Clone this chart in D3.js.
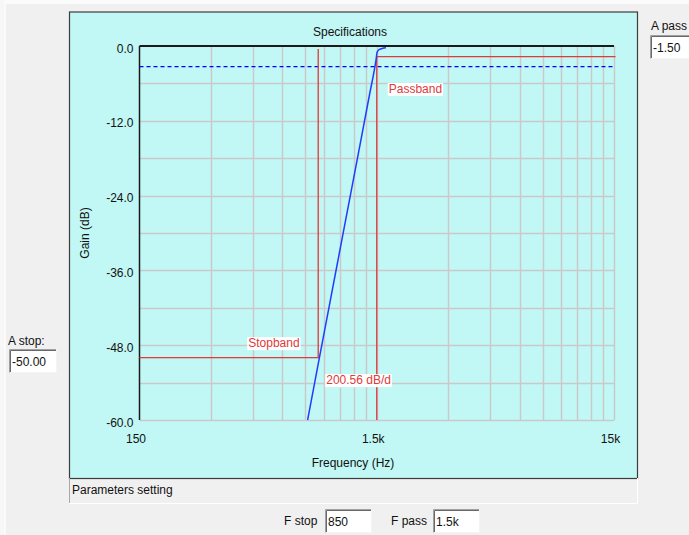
<!DOCTYPE html>
<html>
<head>
<meta charset="utf-8">
<script src="https://cdn.jsdelivr.net/npm/d3@7"></script>
<style>
html,body{margin:0;padding:0;background:#f0f0f0;overflow:hidden;}
svg{display:block;font-family:"Liberation Sans",Arial,sans-serif;}
</style>
</head>
<body>
<svg id="chart" width="689" height="535"></svg>
<script>
// ---- data ----
const freqDomain = [150, 15000];
const gainDomain = [0, -60];
const xTickValues = [150, 1500, 15000];
const xTickLabels = ["150", "1.5k", "15k"];
const yTickValues = [0, -12, -24, -36, -48, -60];
const yTickLabels = ["0.0", "-12.0", "-24.0", "-36.0", "-48.0", "-60.0"];
const yGridValues = [-6, -12, -18, -24, -30, -36, -42, -48, -54, -60];
const xGridMultipliers = [2, 3, 4, 5, 6, 7, 8, 9, 10];
const xGridDecades = [150, 1500];
// filter response (frequency Hz, gain dB)
const respFreq = [767, 850, 1000, 1200, 1400, 1490, 1505, 1530, 1580, 1640];
const respGain = [-60, -51.0, -36.9, -21.1, -7.7, -2.2, -1.0, -0.6, -0.4, -0.3];
const fStop = 850, aStop = -50;
const fPass = 1500, aPass = -1.7;
const ref3dB = -3.3;
const title = "Specifications";
const xLabel = "Frequency (Hz)";
const yLabel = "Gain (dB)";
const slopeText = "200.56 dB/d";

const svg = d3.select("#chart");
const red = "#e03a3a", blue = "#1f3cff", grid = "#c9c9c9";

// page decoration
svg.append("rect").attr("x",0).attr("y",0).attr("width",689).attr("height",4).attr("fill","#fbfbfb");
svg.append("rect").attr("x",0).attr("y",0).attr("width",4).attr("height",535).attr("fill","#f7f7f7");
svg.append("rect").attr("x",4).attr("y",4).attr("width",2).attr("height",531).attr("fill","#fafafa");

// panel
const panel = {x:69, y:11.5, w:568, h:466.5};
svg.append("rect").attr("x",panel.x+0.5).attr("y",panel.y+0.5).attr("width",panel.w).attr("height",panel.h)
  .attr("fill","#c1f7f4").attr("stroke","#3c3c3c").attr("stroke-width",1.2);

// parameters setting area
svg.append("path").attr("d",`M${panel.x+0.5},${panel.y+panel.h} V503.5 H637.5 V${panel.y+panel.h}`)
  .attr("fill","none").attr("stroke","#ffffff").attr("stroke-width",1);
svg.append("line").attr("x1",panel.x+0.5).attr("x2",panel.x+0.5).attr("y1",panel.y+panel.h).attr("y2",503)
  .attr("stroke","#a8a8a8");
svg.append("text").attr("x",72).attr("y",493.5).attr("font-size",12).attr("fill","#111").text("Parameters setting");

const plot = {l:139.5, r:614, t:46, b:420};
const x = d3.scaleLog().domain(freqDomain).range([plot.l, plot.r]);
const y = d3.scaleLinear().domain(gainDomain).range([plot.t, plot.b]);

// grid
const g = svg.append("g");
const xGrid = [];
xGridDecades.forEach(d => xGridMultipliers.forEach(m => xGrid.push(d*m)));
g.selectAll(".vg").data(xGrid).enter().append("line")
  .attr("x1",d=>Math.round(x(d))+0.5).attr("x2",d=>Math.round(x(d))+0.5)
  .attr("y1",plot.t).attr("y2",plot.b).attr("stroke",grid).attr("stroke-width",1.5);
g.selectAll(".hg").data(yGridValues).enter().append("line")
  .attr("x1",plot.l).attr("x2",plot.r)
  .attr("y1",d=>Math.round(y(d))+0.5).attr("y2",d=>Math.round(y(d))+0.5)
  .attr("stroke",grid).attr("stroke-width",1.5);

// axes lines
svg.append("line").attr("x1",plot.l).attr("x2",plot.r).attr("y1",plot.t).attr("y2",plot.t)
  .attr("stroke","#1a1a1a").attr("stroke-width",2);
svg.append("line").attr("x1",plot.l).attr("x2",plot.l).attr("y1",plot.t).attr("y2",plot.b)
  .attr("stroke","#1a1a1a").attr("stroke-width",1.5);

// y axis labels
const yAxis = d3.axisLeft(y).tickValues(yTickValues).tickSize(0).tickPadding(6)
  .tickFormat((d,i)=>yTickLabels[i]);
const ya = svg.append("g").attr("transform",`translate(${plot.l},0)`).call(yAxis);
ya.select(".domain").remove();
ya.selectAll("text").attr("font-size",12).attr("fill","#111").attr("dy","0.5em")
  .attr("font-family","'Liberation Sans',Arial,sans-serif");

// x axis labels
const xAxis = d3.axisBottom(x).tickValues(xTickValues).tickSize(0).tickPadding(14)
  .tickFormat((d,i)=>xTickLabels[i]);
const xa = svg.append("g").attr("transform",`translate(-4,${plot.b})`).call(xAxis);
xa.select(".domain").remove();
xa.selectAll("text").attr("font-size",12).attr("fill","#111")
  .attr("font-family","'Liberation Sans',Arial,sans-serif");

// titles
svg.append("text").attr("x",350).attr("y",36).attr("text-anchor","middle").attr("font-size",12).attr("fill","#111").text(title);
svg.append("text").attr("x",353).attr("y",467).attr("text-anchor","middle").attr("font-size",12).attr("fill","#111").text(xLabel);
svg.append("text").attr("transform",`translate(89,${(plot.t+plot.b)/2}) rotate(-90)`)
  .attr("text-anchor","middle").attr("font-size",12).attr("fill","#111").text(yLabel);

// -3 dB dashed reference
svg.append("line").attr("x1",plot.l).attr("x2",plot.r).attr("y1",y(ref3dB)).attr("y2",y(ref3dB))
  .attr("stroke","#0000ff").attr("stroke-width",1.3).attr("stroke-dasharray","4,3");

// spec lines
const spec = svg.append("g").attr("stroke",red).attr("stroke-width",1.3).attr("fill","none");
spec.append("path").attr("d",d3.line()([[x(freqDomain[0]),y(aStop)],[x(fStop),y(aStop)],[x(fStop),y(-0.5)]]));
spec.append("path").attr("d",d3.line()([[x(fPass),y(gainDomain[1])],[x(fPass),y(aPass)],[x(freqDomain[1])+1.5,y(aPass)]]));

// response curve
const resp = respFreq.map((f,i)=>[f, respGain[i]]);
svg.append("path").datum(resp)
  .attr("d", d3.line().x(d=>x(d[0])).y(d=>y(d[1])).curve(d3.curveMonotoneX))
  .attr("fill","none").attr("stroke",blue).attr("stroke-width",1.5);

// annotation labels with white background
function label(tx, ty, txt){
  const gg = svg.append("g");
  const r = gg.append("rect").attr("fill","#ffffff");
  const t = gg.append("text").attr("x",tx).attr("y",ty).attr("font-size",12).attr("fill",red).text(txt);
  const bb = t.node().getBBox();
  r.attr("x",bb.x-1).attr("y",bb.y+1).attr("width",bb.width+2).attr("height",bb.height-1);
}
label(x(fPass)+12, y(-6.8)+4.5, "Passband");
label(x(fStop)-70, y(aStop)-10.5, "Stopband");
label(x(fStop)+8, y(aStop)+26.5, slopeText);

// input boxes
function inputBox(bx, by, w, h, txt){
  const gg = svg.append("g");
  gg.append("rect").attr("x",bx).attr("y",by).attr("width",w).attr("height",h).attr("fill","#ffffff");
  gg.append("path").attr("d",`M${bx+0.5},${by+h} V${by+0.5} H${bx+w}`).attr("stroke","#a0a0a0").attr("fill","none");
  gg.append("path").attr("d",`M${bx+1.5},${by+h-1} V${by+1.5} H${bx+w-1}`).attr("stroke","#696969").attr("fill","none");
  gg.append("path").attr("d",`M${bx+0.5},${by+h-0.5} H${bx+w-0.5} V${by}`).attr("stroke","#f4f4f4").attr("fill","none");
  gg.append("text").attr("x",bx+3).attr("y",by+h/2+4.5).attr("font-size",12).attr("fill","#111").text(txt);
}
svg.append("text").attr("x",8).attr("y",345).attr("font-size",12).attr("fill","#111").text("A stop:");
inputBox(9, 349, 48, 24, "-50.00");
svg.append("text").attr("x",651).attr("y",30).attr("font-size",12).attr("fill","#111").text("A pass");
inputBox(650, 35, 50, 24, "-1.50");
svg.append("text").attr("x",284).attr("y",525).attr("font-size",12).attr("fill","#111").text("F stop");
inputBox(325, 509, 47, 24, "850");
svg.append("text").attr("x",391).attr("y",525).attr("font-size",12).attr("fill","#111").text("F pass");
inputBox(433, 509, 47, 24, "1.5k");
</script>
</body>
</html>
